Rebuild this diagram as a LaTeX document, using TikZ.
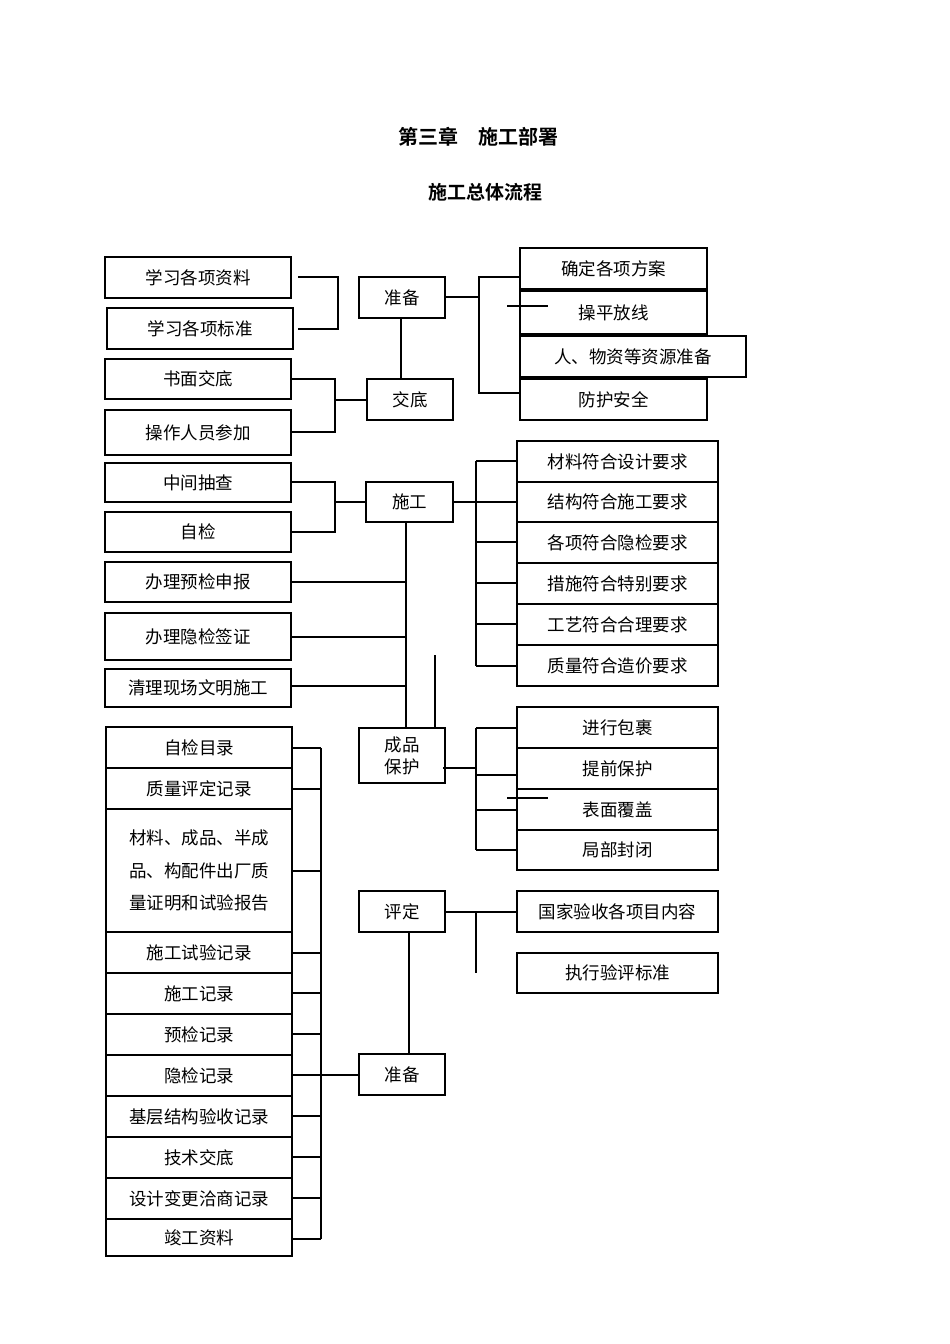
\documentclass[tikz,border=0pt]{standalone}
\usepackage{fontspec}
\setmainfont{Noto Sans CJK SC}
\newfontfamily\cjkb{Noto Sans CJK SC Bold}
\begin{document}
\begin{tikzpicture}[x=1pt,y=-1pt,line width=1.1pt,
  bx/.style={draw,line width=1.1pt},
  lb/.style={font=\fontsize{17.5}{26}\selectfont,align=center},
  ln/.style={line width=1.1pt}]
\useasboundingbox (0,0) rectangle (950,1344);
\node[font=\cjkb\fontsize{20}{24}\selectfont] (t1) at (478,137) {第三章\quad 施工部署};
\node[font=\cjkb\fontsize{19}{24}\selectfont] (t2) at (485,192) {施工总体流程};
% generic box macro
\newcommand\bbox[6]{\draw[bx] (#2,#3) rectangle (#4,#5); \node[lb] (#1) at ({(#2+#4)/2},{(#3+#5)/2}) {#6};}
\bbox{a1}{105}{257}{291}{298}{学习各项资料}
\bbox{a2}{107}{308}{293}{349}{学习各项标准}
\bbox{zb}{359}{277}{445}{318}{准备}
\bbox{jd}{367}{379}{453}{420}{交底}
\bbox{a3}{105}{359}{291}{399}{书面交底}
\bbox{a4}{105}{410}{291}{455}{操作人员参加}
\bbox{r1}{520}{248}{707}{289}{确定各项方案}
\bbox{r2}{520}{291}{707}{334}{操平放线}
\bbox{r3}{520}{336}{746}{377}{人、物资等资源准备}
\bbox{r4}{520}{379}{707}{420}{防护安全}
\draw[ln] (298,277)--(338,277)--(338,329)--(298,329);
\draw[ln] (401,318)--(401,379);
\draw[ln] (291,379)--(335,379)--(335,432)--(291,432);
\draw[ln] (335,400)--(367,400);
\draw[ln] (445,297)--(479,297);
\draw[ln] (520,277)--(479,277)--(479,393)--(520,393);
\draw[ln] (507,306)--(548,306);
% 施工
\bbox{sg}{366}{482}{453}{522}{施工}
\bbox{b1}{105}{463}{291}{502}{中间抽查}
\bbox{b2}{105}{512}{291}{552}{自检}
\draw[ln] (291,482)--(335,482)--(335,532)--(291,532);
\draw[ln] (335,502)--(366,502);
\bbox{b3}{105}{562}{291}{602}{办理预检申报}
\bbox{b4}{105}{613}{291}{660}{办理隐检签证}
\bbox{b5}{105}{669}{291}{707}{清理现场文明施工}
\draw[ln] (406,522)--(406,728);
\draw[ln] (291,582)--(406,582);
\draw[ln] (291,637)--(406,637);
\draw[ln] (291,686)--(406,686);
\draw[ln] (435,655)--(435,728);
\bbox{c1}{517}{441}{718}{482}{材料符合设计要求}
\bbox{c2}{517}{482}{718}{522}{结构符合施工要求}
\bbox{c3}{517}{522}{718}{563}{各项符合隐检要求}
\bbox{c4}{517}{563}{718}{604}{措施符合特别要求}
\bbox{c5}{517}{604}{718}{645}{工艺符合合理要求}
\bbox{c6}{517}{645}{718}{686}{质量符合造价要求}
\draw[ln] (453,502)--(476,502);
\draw[ln] (476,461)--(476,666);
\foreach \y in {461,502,542,583,624,666} \draw[ln] (476,\y)--(517,\y);
% 成品保护
\bbox{cp}{359}{728}{445}{783}{成品\\[-4pt]保护}
\bbox{d1}{517}{707}{718}{748}{进行包裹}
\bbox{d2}{517}{748}{718}{789}{提前保护}
\bbox{d3}{517}{789}{718}{830}{表面覆盖}
\bbox{d4}{517}{830}{718}{870}{局部封闭}
\draw[ln] (443,768)--(476,768);
\draw[ln] (476,728)--(476,850);
\foreach \y in {728,775,810,850} \draw[ln] (476,\y)--(517,\y);
\draw[ln] (507,798)--(548,798);
% 评定
\bbox{pd}{359}{891}{445}{932}{评定}
\bbox{e1}{517}{891}{718}{932}{国家验收各项目内容}
\bbox{e2}{517}{953}{718}{993}{执行验评标准}
\draw[ln] (445,912)--(517,912);
\draw[ln] (476,912)--(476,973);
\draw[ln] (409,932)--(409,1054);
\bbox{zb2}{359}{1054}{445}{1095}{准备}
\draw[ln] (359,1075)--(321,1075);
% left column
\bbox{f1}{106}{727}{292}{768}{自检目录}
\bbox{f2}{106}{768}{292}{809}{质量评定记录}
\draw[bx] (106,809) rectangle (292,932);
\node[font=\fontsize{17.5}{32.5}\selectfont,align=left] (f3) at (199,870.5) {材料、成品、半成\\品、构配件出厂质\\量证明和试验报告};
\bbox{f4}{106}{932}{292}{973}{施工试验记录}
\bbox{f5}{106}{973}{292}{1014}{施工记录}
\bbox{f6}{106}{1014}{292}{1055}{预检记录}
\bbox{f7}{106}{1055}{292}{1096}{隐检记录}
\bbox{f8}{106}{1096}{292}{1137}{基层结构验收记录}
\bbox{f9}{106}{1137}{292}{1178}{技术交底}
\bbox{f10}{106}{1178}{292}{1219}{设计变更洽商记录}
\bbox{f11}{106}{1219}{292}{1256}{竣工资料}
\draw[ln] (321,748)--(321,1239);
\foreach \y in {748,789,871,953,993,1034,1075,1116,1157,1198,1239} \draw[ln] (292,\y)--(321,\y);
\end{tikzpicture}
\end{document}
